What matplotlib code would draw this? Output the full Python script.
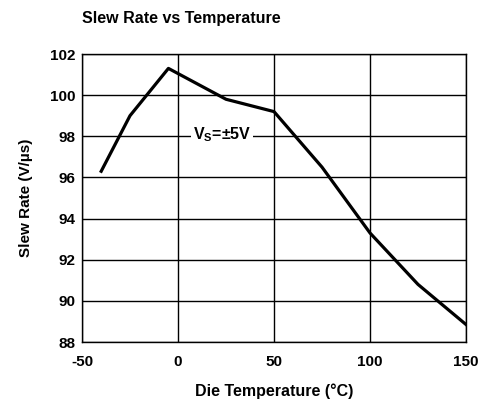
import matplotlib
matplotlib.use("Agg")
import matplotlib.pyplot as plt

plt.rcParams['font.family'] = ['Liberation Sans', 'DejaVu Sans']
plt.rcParams['font.weight'] = 'bold'
plt.rcParams['axes.unicode_minus'] = False

# die temperature (°C) and slew rate (V/µs)
temperature = [-40, -25, -5, 25, 50, 75, 100, 125, 150]
slew_rate = [96.3, 99.0, 101.3, 99.8, 99.2, 96.5, 93.3, 90.8, 88.85]

x_ticks = [-50, 0, 50, 100, 150]
y_ticks = [88, 90, 92, 94, 96, 98, 100, 102]

fig = plt.figure(figsize=(4.82, 4.01), dpi=100)
ax = fig.add_axes([82 / 482, 1 - 342 / 401, 384 / 482, 288 / 401])

ax.plot(temperature, slew_rate, color='black', linewidth=2.3, zorder=3)

ax.set_xlim(-50, 150)
ax.set_ylim(88, 102)
ax.set_xticks(x_ticks)
ax.set_yticks(y_ticks)
ax.tick_params(length=0, labelsize=11)
ax.tick_params(axis='x', pad=9)
ax.tick_params(axis='y', pad=5)
ax.grid(True, color='black', linewidth=1.0)
for s in ax.spines.values():
    s.set_linewidth(1.0)

ax.set_xlabel('Die Temperature (°C)', fontsize=11.5, fontweight='bold', labelpad=11)
ax.set_ylabel('Slew Rate (V/µs)', fontsize=11, fontweight='bold', labelpad=12)

ax.text(23, 98.06, r'V$_\mathregular{S}$=±5V', fontsize=11.5, fontweight='bold',
        ha='center', va='center', zorder=4,
        bbox=dict(facecolor='white', edgecolor='none', pad=1.5))

fig.text(82 / 482, 1 - 18 / 401, 'Slew Rate vs Temperature', fontsize=11.5,
         fontweight='bold', ha='left', va='center')

fig.savefig('out.png', dpi=100)
